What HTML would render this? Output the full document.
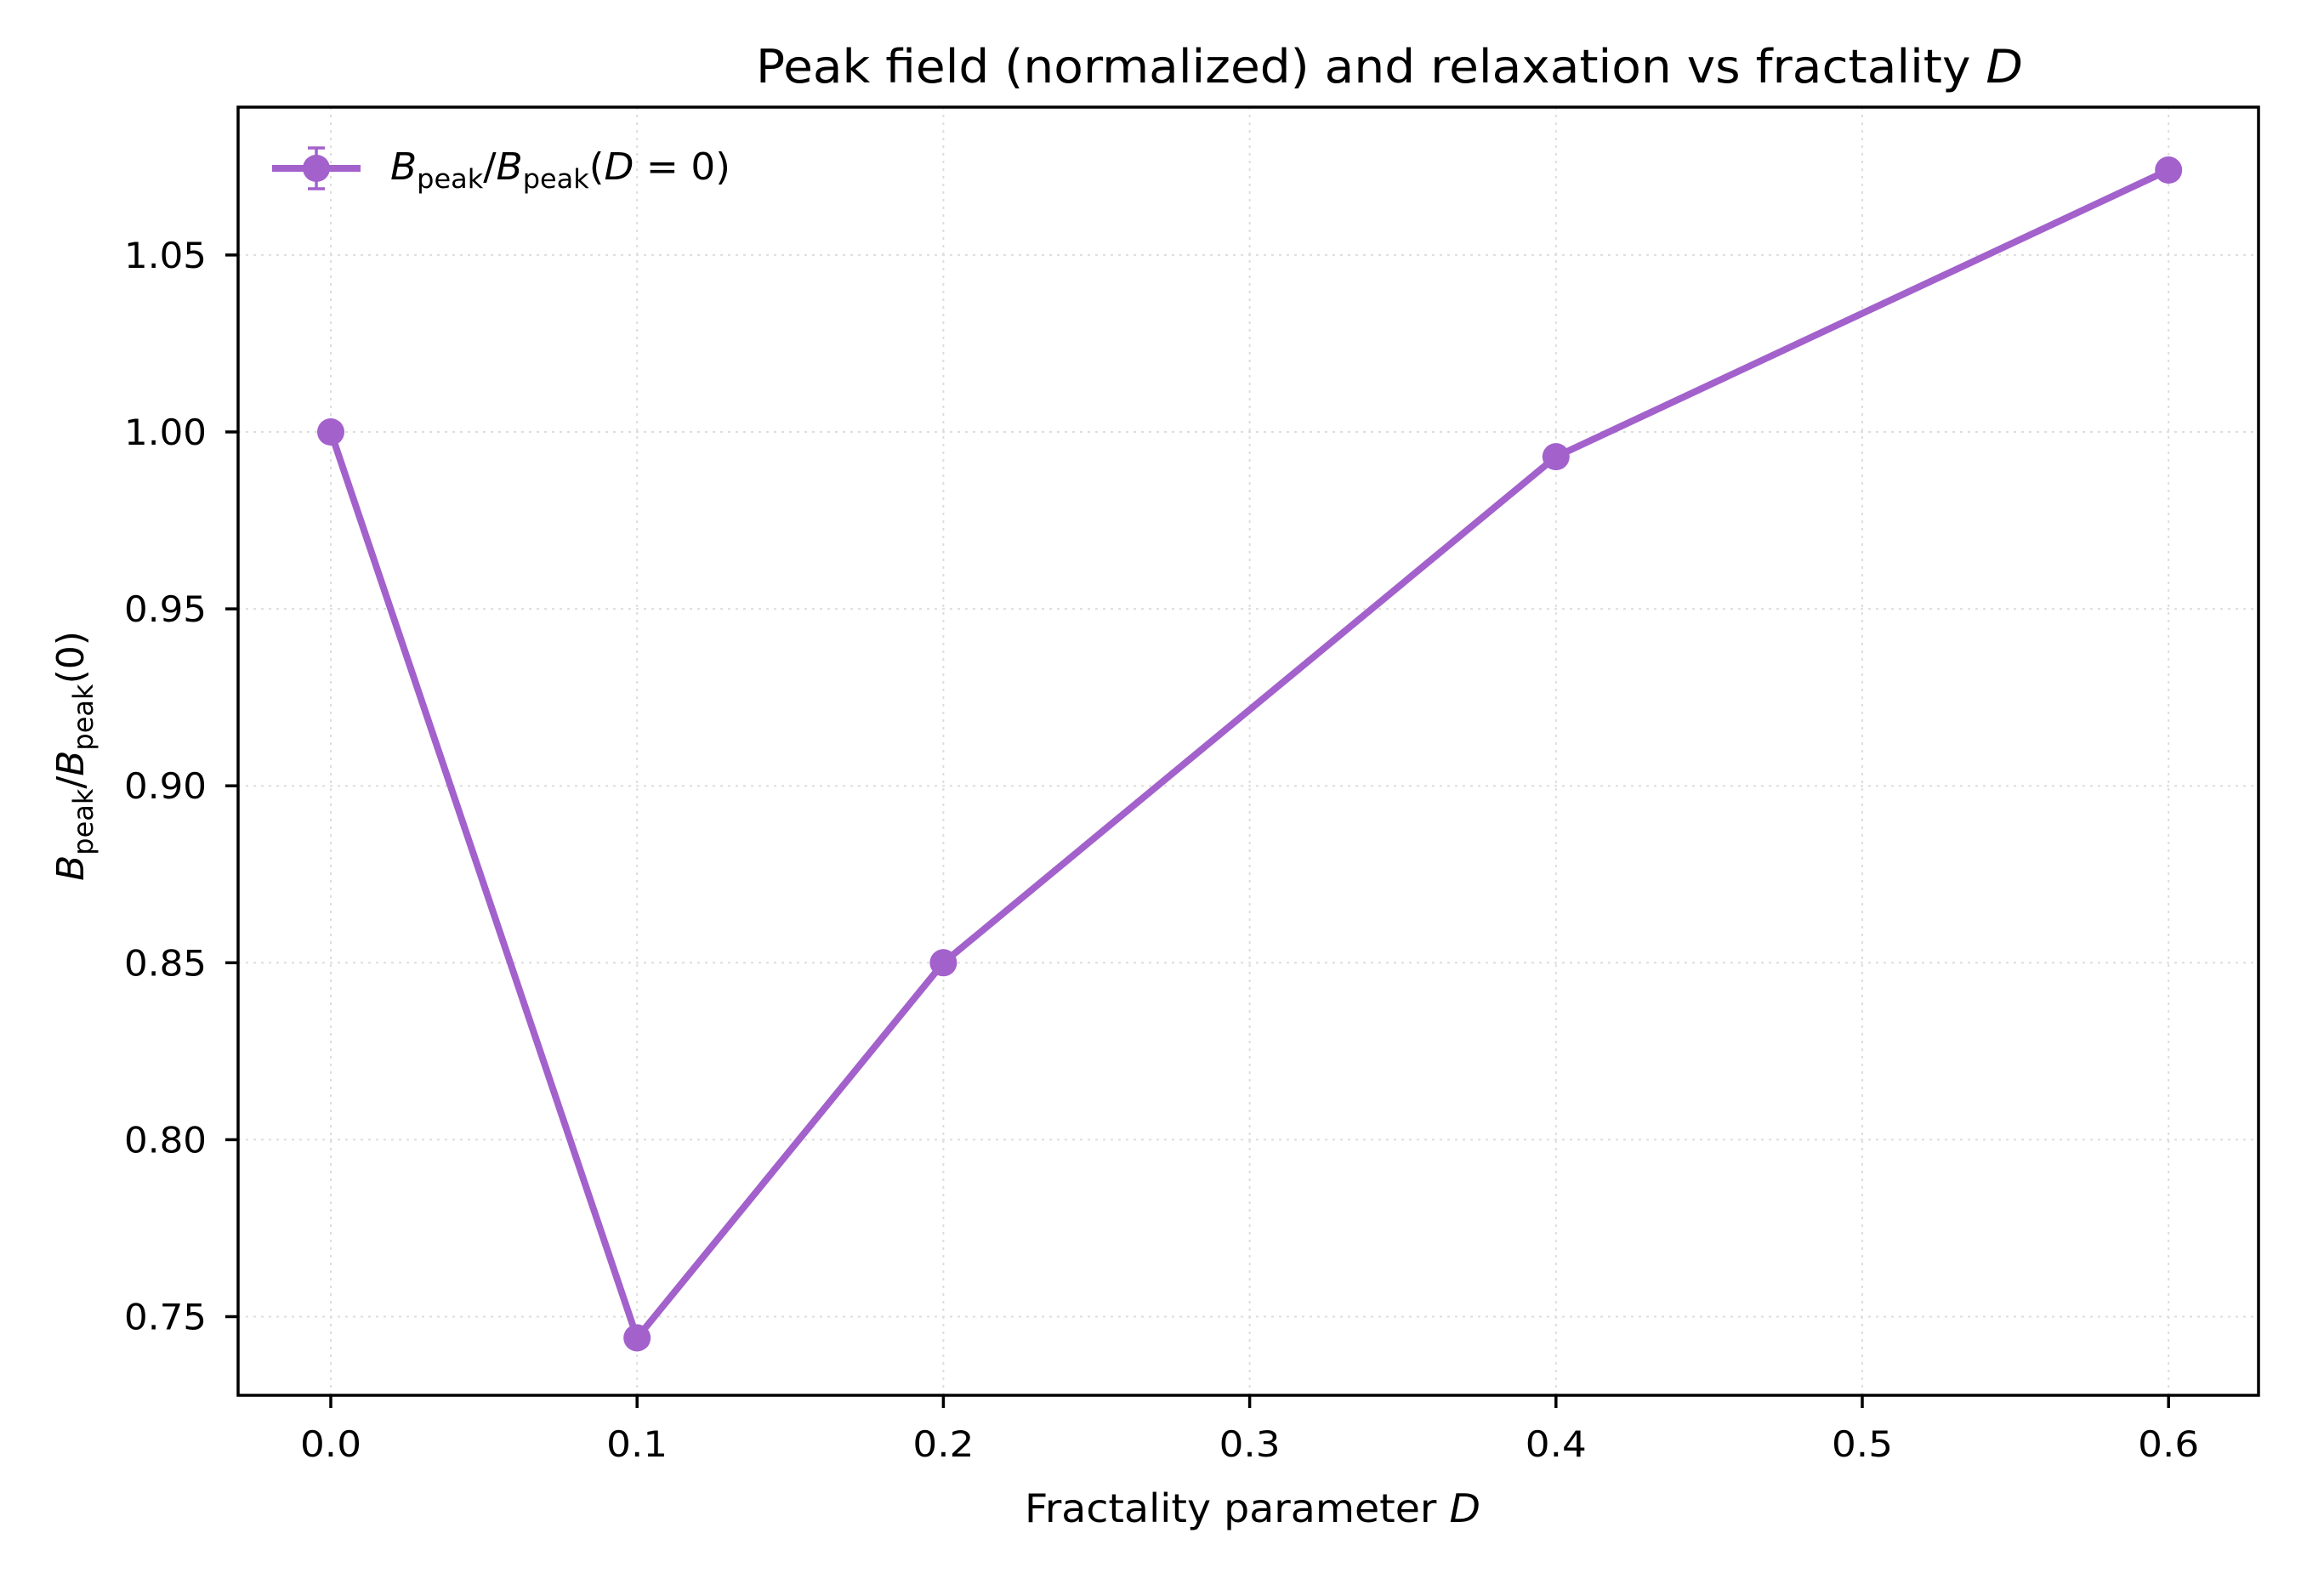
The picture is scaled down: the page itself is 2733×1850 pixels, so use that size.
<!DOCTYPE html>
<html><head><meta charset="utf-8"><style>
html,body{margin:0;padding:0;background:#fff;}
svg{display:block;font-family:"DejaVu Sans","Liberation Sans",sans-serif;}
</style></head><body>
<svg id="chart" width="2733" height="1850" viewBox="0 0 2733 1850">
<rect x="0" y="0" width="2733" height="1850" fill="#fff"/>
<g id="grid"></g>
<g id="series"></g>
<rect x="280" y="126" width="2376" height="1515" fill="none" stroke="#000" stroke-width="3.5"/>
<g id="axes"></g>
<text x="1634" y="97" font-size="54" text-anchor="middle" textLength="1490" lengthAdjust="spacingAndGlyphs">Peak field (normalized) and relaxation vs fractality <tspan font-style="italic">D</tspan></text>
<text x="1473" y="1790" font-size="46" text-anchor="middle" textLength="536" lengthAdjust="spacingAndGlyphs">Fractality parameter <tspan font-style="italic">D</tspan></text>
<text transform="translate(98,889) rotate(-90)" font-size="44" text-anchor="middle"><tspan font-style="italic">B</tspan><tspan font-size="32" dy="11">peak</tspan><tspan dy="-11">/</tspan><tspan font-style="italic">B</tspan><tspan font-size="32" dy="11">peak</tspan><tspan dy="-11">(0)</tspan></text>
<g>
<line x1="320" y1="198" x2="424" y2="198" stroke="#a361cc" stroke-width="8"/>
<line x1="372" y1="174" x2="372" y2="222" stroke="#a361cc" stroke-width="3.5"/>
<line x1="362" y1="174" x2="382" y2="174" stroke="#a361cc" stroke-width="3.5"/>
<line x1="362" y1="222" x2="382" y2="222" stroke="#a361cc" stroke-width="3.5"/>
<circle cx="372" cy="198" r="16" fill="#a361cc"/>
<text x="459" y="211" font-size="44" textLength="400" lengthAdjust="spacingAndGlyphs"><tspan font-style="italic">B</tspan><tspan font-size="31" dy="10">peak</tspan><tspan dy="-10">/</tspan><tspan font-style="italic">B</tspan><tspan font-size="31" dy="10">peak</tspan><tspan dy="-10">(</tspan><tspan font-style="italic">D</tspan> = 0)</text>
</g>
</svg>
<script>
const xValues = [0, 0.1, 0.2, 0.4, 0.6];
const yValues = [1.0, 0.744, 0.850, 0.993, 1.074];
const xTicks = [0, 0.1, 0.2, 0.3, 0.4, 0.5, 0.6];
const xTickLabels = ["0.0","0.1","0.2","0.3","0.4","0.5","0.6"];
const yTicks = [0.75, 0.80, 0.85, 0.90, 0.95, 1.00, 1.05];
const yTickLabels = ["0.75","0.80","0.85","0.90","0.95","1.00","1.05"];

const NS = "http://www.w3.org/2000/svg";
function xs(v){ return 389 + (v - 0) * 3602; }
function ys(v){ return 508 + (1.0 - v) * 4162; }
function mk(tag, attrs, parent){
  const e = document.createElementNS(NS, tag);
  for (const k in attrs) e.setAttribute(k, attrs[k]);
  parent.appendChild(e);
  return e;
}
const grid = document.getElementById('grid');
const axes = document.getElementById('axes');
const series = document.getElementById('series');

xTicks.forEach((t, i) => {
  const x = xs(t);
  const g = mk('line', {x1:x, y1:126, x2:x, y2:1641, stroke:'#ddd', 'stroke-width':2, 'stroke-dasharray':'3,6'}, grid);
  
  
  const tk = mk('line', {x1:x, y1:1641, x2:x, y2:1656, stroke:'#000', 'stroke-width':3.5}, axes);
  
  
  const lb = mk('text', {x:x, y:1713, 'font-size':42, 'text-anchor':'middle', textLength:72, lengthAdjust:'spacingAndGlyphs'}, axes);
  lb.textContent = xTickLabels[i];
  
  
});
yTicks.forEach((t, i) => {
  const y = ys(t);
  const g = mk('line', {x1:280, y1:y, x2:2656, y2:y, stroke:'#ddd', 'stroke-width':2, 'stroke-dasharray':'3,6'}, grid);
  
  
  const tk = mk('line', {x1:265, y1:y, x2:280, y2:y, stroke:'#000', 'stroke-width':3.5}, axes);
  
  
  const lb = mk('text', {x:243, y:y+15, 'font-size':42, 'text-anchor':'end', textLength:97, lengthAdjust:'spacingAndGlyphs'}, axes);
  lb.textContent = yTickLabels[i];
  
  
});
const pts = xValues.map((v, i) => xs(v) + ',' + ys(yValues[i])).join(' ');
const line = mk('polyline', {points:pts, fill:'none', stroke:'#a361cc', 'stroke-width':8, 'stroke-linejoin':'round'}, series);


xValues.forEach((v, i) => {
  const c = mk('circle', {cx:xs(v), cy:ys(yValues[i]), r:16, fill:'#a361cc'}, series);
  
  
});
</script>
</body></html>
